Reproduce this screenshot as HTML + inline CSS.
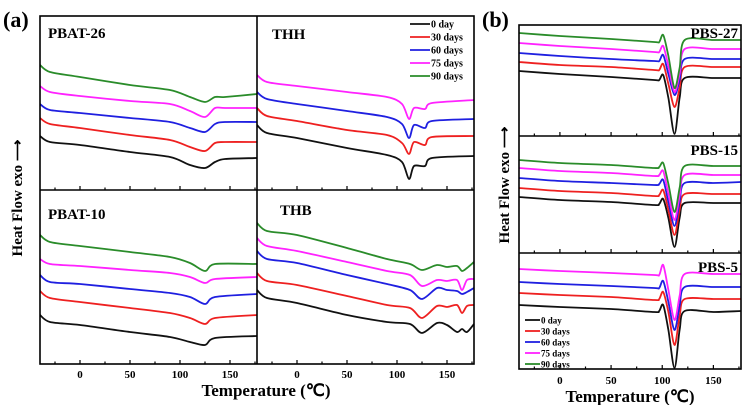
<!DOCTYPE html>
<html><head><meta charset="utf-8">
<style>
html,body{margin:0;padding:0;background:#fff;}
svg{display:block;}
text{font-family:"Liberation Serif",serif;font-weight:bold;fill:#000;}
</style></head>
<body>
<svg id="fig" width="747" height="405" viewBox="0 0 747 405" xmlns="http://www.w3.org/2000/svg">
<text x="3" y="27" font-size="22">(a)</text>
<text x="482" y="27" font-size="22">(b)</text>
<text transform="translate(22,198) rotate(-90)" text-anchor="middle" font-size="15">Heat Flow exo ⟶</text>
<text transform="translate(509,185) rotate(-90)" text-anchor="middle" font-size="15">Heat Flow exo ⟶</text>
<text x="266" y="396" text-anchor="middle" font-size="17">Temperature (℃)</text>
<text x="630" y="402" text-anchor="middle" font-size="17">Temperature (℃)</text>
<g id="plots"></g>
</svg>
<script>
const seriesNames = ["0 day","30 days","60 days","75 days","90 days"];
const seriesColors = ["#111111","#ee2020","#1f1fe0","#ff22ff","#2a8c2a"];
const xTicks = [0,50,100,150];

const pbat26Temps = [-40,-30,0,50,90,110,125,135,145,177];
const pbat26 = [
 [136,142,145,152,157,165,168,162,159,158],
 [118,124,128,135,140,147,151,143,142,142],
 [104,110,113,118,122,128,132,124,122,122],
 [86,92,96,101,104,111,117,108,108,108],
 [65,72,77,85,90,97,102,97,97,94]];

const pbat10Temps = [-40,-30,0,50,90,110,125,135,177];
const pbat10 = [
 [315,322,325,332,337,342,345,338,336],
 [291,298,302,308,313,318,324,318,315],
 [275,282,284,289,293,297,304,297,294],
 [259,264,266,270,273,277,283,279,277],
 [235,242,246,252,257,263,271,264,264]];

const thhTemps = [-40,-30,0,50,90,105,112,117,128,135,177];
const thh = [
 [125,133,138,148,155,162,179,166,166,158,156],
 [108,116,121,130,135,143,154,142,145,137,136],
 [92,99,104,111,117,124,138,125,128,121,119],
 [75,82,86,92,97,104,119,108,109,103,100]];

const thbTemps = [-40,-30,0,50,90,113,125,140,150,160,165,170,177];
const thb = [
 [290,298,303,315,322,324,333,323,325,332,329,332,324],
 [273,281,285,296,305,308,318,306,307,305,313,306,305],
 [251,259,263,275,284,290,299,288,290,291,294,292,288],
 [238,246,251,262,271,275,286,280,281,280,290,280,279],
 [223,231,235,248,259,264,270,265,267,266,271,268,262]];

const pbsTemps = [-40,0,50,92,97,101,106,112,117,122,150,177];
const pbs27 = [
 [71,74,77,80,80,75,98,134,98,78,78,78],
 [62,65,67,70,70,64,84,107,88,67,67,67],
 [53,56,59,61,61,55,74,95,80,59,59,59],
 [43,46,49,52,52,46,66,92,74,49,49,49],
 [33,36,39,42,42,35,56,88,68,40,40,40]];
const pbs15 = [
 [197,200,202,205,204,199,218,247,218,203,203,203],
 [188,191,193,196,195,190,210,235,210,194,194,194],
 [178,181,183,185,184,180,202,226,202,183,183,182],
 [168,171,173,176,175,171,194,220,196,175,175,175],
 [160,163,165,168,167,163,184,212,188,166,166,166]];
const pbs5 = [
 [305,307,309,312,311,305,330,368,330,311,312,311],
 [293,295,297,300,299,292,312,345,316,299,299,299],
 [282,284,286,288,288,281,302,330,306,287,287,287],
 [269,271,273,275,275,265,290,320,296,274,274,274]];

const NS="http://www.w3.org/2000/svg";
const root=document.getElementById('plots');
function mk(tag,attrs,parent){const e=document.createElementNS(NS,tag);for(const k in attrs)e.setAttribute(k,attrs[k]);(parent||root).appendChild(e);return e;}
function lin(d0,d1,r0,r1){return v=>r0+(v-d0)*(r1-r0)/(d1-d0);}
function smoothPath(pts){
 let d="M"+pts[0][0].toFixed(1)+","+pts[0][1].toFixed(1);
 for(let i=0;i<pts.length-1;i++){
  const p0=pts[Math.max(0,i-1)],p1=pts[i],p2=pts[i+1],p3=pts[Math.min(pts.length-1,i+2)];
  const t=0.15;
  const c1=[p1[0]+(p2[0]-p0[0])*t,p1[1]+(p2[1]-p0[1])*t];
  const c2=[p2[0]-(p3[0]-p1[0])*t,p2[1]-(p3[1]-p1[1])*t];
  d+=" C"+c1[0].toFixed(1)+","+c1[1].toFixed(1)+" "+c2[0].toFixed(1)+","+c2[1].toFixed(1)+" "+p2[0].toFixed(1)+","+p2[1].toFixed(1);
 }
 return d;
}
function panel(name,x0,x1,y0,y1,temps,data,title,titleX,titleY,anchor){
 const g=mk('g',{});
 
 
 const xs=lin(-40,177,x0,x1);
 const ys=lin(y0,y1,y0,y1);
 data.forEach((s,i)=>{
  const pts=s.map((v,j)=>[xs(temps[j]),ys(v)]);
  const p=mk('path',{d:smoothPath(pts),fill:'none',stroke:seriesColors[i],'stroke-width':1.8,'stroke-linejoin':'round'},g);
  
  
 });
 for(let t=-25;t<=175;t+=25){
  const major=t%50===0;
  const tk=mk('line',{x1:xs(t),x2:xs(t),y1:y1,y2:y1-(major?4:2.5),stroke:'#000','stroke-width':1.2},g);
  
  
 }
 const tt=mk('text',{x:titleX,y:titleY,'font-size':15,'text-anchor':anchor},g);
 tt.textContent=title;
 
 
 return xs;
}
function frame(x,y,w,h,name){
 const r=mk('rect',{x:x,y:y,width:w,height:h,fill:'none',stroke:'#000','stroke-width':1.6});
 
 
}
function tickLabels(xs,y,name){
 xTicks.forEach(t=>{
  const e=mk('text',{x:xs(t),y:y,'font-size':11,'text-anchor':'middle'});
  e.textContent=t;
  
  
 });
}
function legend(x,y,dy,n,len,name,fs){
 for(let i=0;i<n;i++){
  const l=mk('line',{x1:x,x2:x+len,y1:y+i*dy,y2:y+i*dy,stroke:seriesColors[i],'stroke-width':1.8});
  
  
  const t=mk('text',{x:x+len+1,y:y+i*dy+3.5,'font-size':fs});
  t.textContent=seriesNames[i];
  
  
 }
}
const xsL=panel('pbat26-panel',40,257,16,190,pbat26Temps,pbat26,'PBAT-26',48,38,'start');
panel('pbat10-panel',40,257,190,364,pbat10Temps,pbat10,'PBAT-10',48,219,'start');
const xsR=panel('thh-panel',257,474,16,190,thhTemps,thh,'THH',272,39,'start');
panel('thb-panel',257,474,190,364,thbTemps,thb,'THB',280,215,'start');
const xsB=panel('pbs27-panel',519,741,25,136,pbsTemps,pbs27,'PBS-27',738,38,'end');
panel('pbs15-panel',519,741,136,253,pbsTemps,pbs15,'PBS-15',738,155,'end');
panel('pbs5-panel',519,741,253,369,pbsTemps,pbs5,'PBS-5',738,272,'end');
frame(40,16,434,348,'panel-a-frame');
mk('line',{x1:257,x2:257,y1:16,y2:364,stroke:'#000','stroke-width':1.6});
mk('line',{x1:40,x2:474,y1:190,y2:190,stroke:'#000','stroke-width':1.6});
frame(519,25,222,344,'panel-b-frame');
mk('line',{x1:519,x2:741,y1:136,y2:136,stroke:'#000','stroke-width':1.6});
mk('line',{x1:519,x2:741,y1:253,y2:253,stroke:'#000','stroke-width':1.6});
tickLabels(xsL,378,'x-tick-label');
tickLabels(xsR,378,'x-tick-label');
tickLabels(xsB,384,'x-tick-label');
legend(410,24,13,5,20,'legend-a',10);
legend(525,320,11,5,15,'legend-b',9);
</script>
</body></html>
